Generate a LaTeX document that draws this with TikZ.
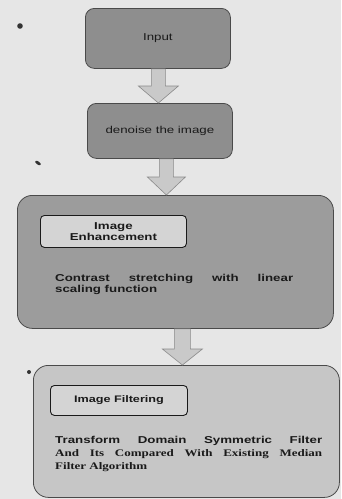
\documentclass[tikz,border=0pt]{standalone}
\usepackage{fontspec}
\usetikzlibrary{calc}
\newfontfamily\wsans[FakeStretch=1.33]{Liberation Sans}
\newfontfamily\wserif[FakeStretch=1.3]{Liberation Serif}
\definecolor{paper}{HTML}{E6E6E6}
\definecolor{darkbox}{HTML}{8E8E8E}
\definecolor{midbox}{HTML}{9C9C9C}
\definecolor{lightbox}{HTML}{C6C6C6}
\definecolor{innerfill}{HTML}{D4D4D4}
\definecolor{arrowfill}{HTML}{C9C9C9}
\definecolor{arrowline}{HTML}{8A8A8A}
\definecolor{ink}{HTML}{1A1A1A}
\definecolor{edge}{HTML}{4A4A4A}
\tikzset{
  smallbox/.style={draw=edge, line width=0.8pt, fill=darkbox, rounded corners=9pt,
    anchor=north west, inner sep=0pt, text=ink, font=\wsans\fontsize{10}{12}\selectfont},
  bigbox/.style={draw=edge, line width=0.8pt, rounded corners=15pt, anchor=north west, inner sep=0pt},
  innerbox/.style={draw=ink, line width=0.9pt, fill=innerfill, rounded corners=4pt,
    anchor=north west, inner sep=0pt, text=ink, align=center},
  bodytext/.style={anchor=north west, inner sep=0pt, text=ink, align=justify},
  blockarrow/.style={fill=arrowfill, draw=arrowline, line width=0.6pt},
  speck/.style={fill=black!80}
}
\begin{document}
\begin{tikzpicture}[x=1pt,y=-1pt]
\fill[paper] (0,0) rectangle (341,499);
\useasboundingbox (0,0) rectangle (341,499);

% boxes
\node[smallbox, minimum width=145pt, minimum height=60pt] (in) at (85,8) {Input};
\node[smallbox, minimum width=145pt, minimum height=55pt] (dn) at (87,103) {denoise the image};
\node[bigbox, fill=midbox, minimum width=316pt, minimum height=133pt] (en) at (17,195) {};
\node[innerbox, minimum width=146pt, minimum height=32pt,
  font=\wsans\bfseries\fontsize{10}{11}\selectfont] (ent) at (40,215) {Image\\Enhancement};
\node[bodytext, text width=238pt, font=\wsans\bfseries\fontsize{10}{11.5}\selectfont] (enb) at (55,274)
  {Contrast stretching with linear\linebreak scaling function};
\node[bigbox, fill=lightbox, minimum width=306pt, minimum height=132pt] (fi) at (33,365) {};
\node[innerbox, minimum width=137pt, minimum height=30pt,
  font=\wsans\bfseries\fontsize{9.5}{11}\selectfont] (fit) at (50,385) {Image Filtering};
\node[bodytext, text width=267pt, font=\wserif\bfseries\fontsize{10}{13}\selectfont] (fib) at (55,436)
  {{\wsans\bfseries Transform Domain Symmetric Filter}\linebreak
   And Its Compared With Existing Median\linebreak Filter Algorithm};

% block arrows
\draw[blockarrow] let \p1=($(in.south)+(0.5,0)$), \p2=(dn.north) in
  (\x1-7pt,\y1) -- (\x1+7pt,\y1) -- (\x1+7pt,\y2+17pt) -- (\x1+20pt,\y2+17pt)
  -- (\x1,\y2) -- (\x1-20pt,\y2+17pt) -- (\x1-7pt,\y2+17pt) -- cycle;
\draw[blockarrow] let \p1=($(dn.south)+(6.5,0)$), \p2=(en.north) in
  (\x1-7pt,\y1) -- (\x1+7pt,\y1) -- (\x1+7pt,\y2+18pt) -- (\x1+19pt,\y2+18pt)
  -- (\x1,\y2) -- (\x1-19pt,\y2+18pt) -- (\x1-7pt,\y2+18pt) -- cycle;
\draw[blockarrow] let \p1=($(en.south)+(7,0)$), \p2=(fi.north) in
  (\x1-8pt,\y1) -- (\x1+8pt,\y1) -- (\x1+8pt,\y2+16pt) -- (\x1+20pt,\y2+16pt)
  -- (\x1,\y2) -- (\x1-20pt,\y2+16pt) -- (\x1-8pt,\y2+16pt) -- cycle;

% specks
\fill[speck] (20,26) circle (2.8);
\fill[speck, rotate around={-35:(38,163)}] (38,163) ellipse (3.2 and 1.6);
\fill[speck] (29,372) circle (2);
\end{tikzpicture}
\end{document}
